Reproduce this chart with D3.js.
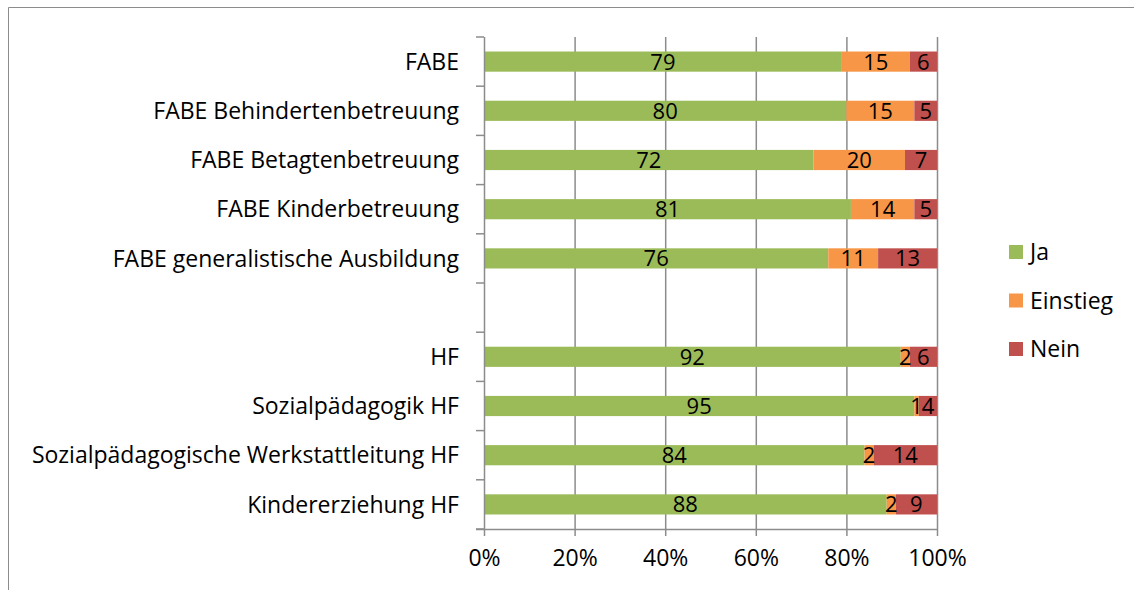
<!DOCTYPE html>
<html>
<head>
<meta charset="utf-8">
<script src="https://cdn.jsdelivr.net/npm/d3@7"></script>
<style>
  body { margin: 0; background: #fff; }
  text { font-family: "Open Sans", Lato, sans-serif; fill: #000; }
</style>
</head>
<body>
<svg width="1134" height="590"></svg>
<script>
// categories top to bottom, "" = empty gap row
let categories = ["FABE", "FABE Behindertenbetreuung", "FABE Betagtenbetreuung", "FABE Kinderbetreuung",
  "FABE generalistische Ausbildung", "", "HF", "Sozialpädagogik HF",
  "Sozialpädagogische Werkstattleitung HF", "Kindererziehung HF"];
let series = ["Ja", "Einstieg", "Nein"];
let ja       = [79, 80, 72, 81, 76, null, 92, 95, 84, 88];
let einstieg = [15, 15, 20, 14, 11, null, 2, 1, 2, 2];
let nein     = [6, 5, 7, 5, 13, null, 6, 4, 14, 9];
let xTicks = [0, 0.2, 0.4, 0.6, 0.8, 1];
let colors = ["#9bbb59", "#f79646", "#c0504d"];

let svg = d3.select('svg');
let plotLeft = 484, plotRight = 937, plotTop = 37, plotBottom = 529;
let fontSize = '23px';

// frame
svg.append('path')
  .attr('d', 'M8.5,590V7.5H1134')
  .attr('fill', 'none')
  .attr('stroke', '#8c8c8c');

let keys = categories.map((c, i) => 'c' + i);
let x = d3.scaleLinear().domain([0, 1]).range([plotLeft, plotRight]);
let y = d3.scaleBand().domain(keys).range([plotTop, plotBottom]).paddingInner(0.59).paddingOuter(0.295);
let yb = d3.scaleBand().domain(keys).range([plotTop, plotBottom]);
let color = d3.scaleOrdinal().domain(series).range(colors);

// gridlines
svg.append('g').selectAll('line')
  .data(xTicks.slice(1))
  .enter().append('line')
  .attr('x1', d => x(d) + 0.5).attr('x2', d => x(d) + 0.5)
  .attr('y1', plotTop).attr('y2', plotBottom)
  .attr('stroke', '#8c8c8c').attr('stroke-width', 1.5);

let rows = categories.map((c, i) => ({ key: keys[i], name: c, Ja: ja[i], Einstieg: einstieg[i], Nein: nein[i] }))
  .filter(d => d.Ja != null);
let stack = d3.stack().keys(series).offset(d3.stackOffsetExpand);
let layers = stack(rows);

let g = svg.append('g');
layers.forEach(layer => {
  let lg = g.append('g').attr('fill', color(layer.key));
  lg.selectAll('rect')
    .data(layer)
    .enter().append('rect')
    .attr('x', d => x(d[0]))
    .attr('width', d => x(d[1]) - x(d[0]))
    .attr('y', d => y(d.data.key))
    .attr('height', y.bandwidth());
});
layers.forEach(layer => {
  g.append('g').selectAll('text')
    .data(layer)
    .enter().append('text')
    .attr('x', d => (x(d[0]) + x(d[1])) / 2)
    .attr('y', d => y(d.data.key) + y.bandwidth() / 2)
    .attr('dy', '0.36em')
    .attr('text-anchor', 'middle')
    .style('font-size', '22px')
    .text(d => d.data[layer.key]);
});

// y axis
let yAxis = svg.append('g');
yAxis.append('line')
  .attr('x1', plotLeft + 0.5).attr('x2', plotLeft + 0.5)
  .attr('y1', plotTop).attr('y2', plotBottom)
  .attr('stroke', '#8c8c8c').attr('stroke-width', 1.5);
yAxis.selectAll('.tk')
  .data(keys.concat(['end']))
  .enter().append('line')
  .attr('x1', plotLeft - 8).attr('x2', plotLeft)
  .attr('y1', (d, i) => plotTop + i * yb.step()).attr('y2', (d, i) => plotTop + i * yb.step())
  .attr('stroke', '#8c8c8c').attr('stroke-width', 1.5);
yAxis.selectAll('text')
  .data(categories)
  .enter().append('text')
  .attr('x', plotLeft - 25)
  .attr('y', (d, i) => yb(keys[i]) + yb.bandwidth() / 2)
  .attr('dy', '0.36em')
  .attr('text-anchor', 'end')
  .style('font-size', fontSize)
  .text(d => d);

// x axis
let xAxis = svg.append('g').attr('transform', `translate(0,${plotBottom})`)
  .call(d3.axisBottom(x).tickValues(xTicks).tickFormat(d3.format('.0%')).tickSize(7).tickPadding(14));
xAxis.select('.domain').attr('stroke', '#8c8c8c').attr('stroke-width', 1.5).attr('d', `M${plotLeft - 8},0.5H${plotRight}`);
xAxis.selectAll('.tick line').attr('stroke', '#8c8c8c').attr('stroke-width', 1.5);
xAxis.selectAll('.tick text').style('font-size', fontSize).style('font-family', '"Open Sans", sans-serif').attr('fill', '#000');

// legend
let legend = svg.append('g').attr('transform', 'translate(1009,252)');
series.forEach((s, i) => {
  let lg = legend.append('g').attr('transform', `translate(0,${i * 48.5})`);
  lg.append('rect').attr('x', 0).attr('y', -7).attr('width', 14).attr('height', 14).attr('fill', color(s));
  lg.append('text').attr('x', 21).attr('y', 0).attr('dy', '0.36em').style('font-size', fontSize).text(s);
});
</script>
</body>
</html>
